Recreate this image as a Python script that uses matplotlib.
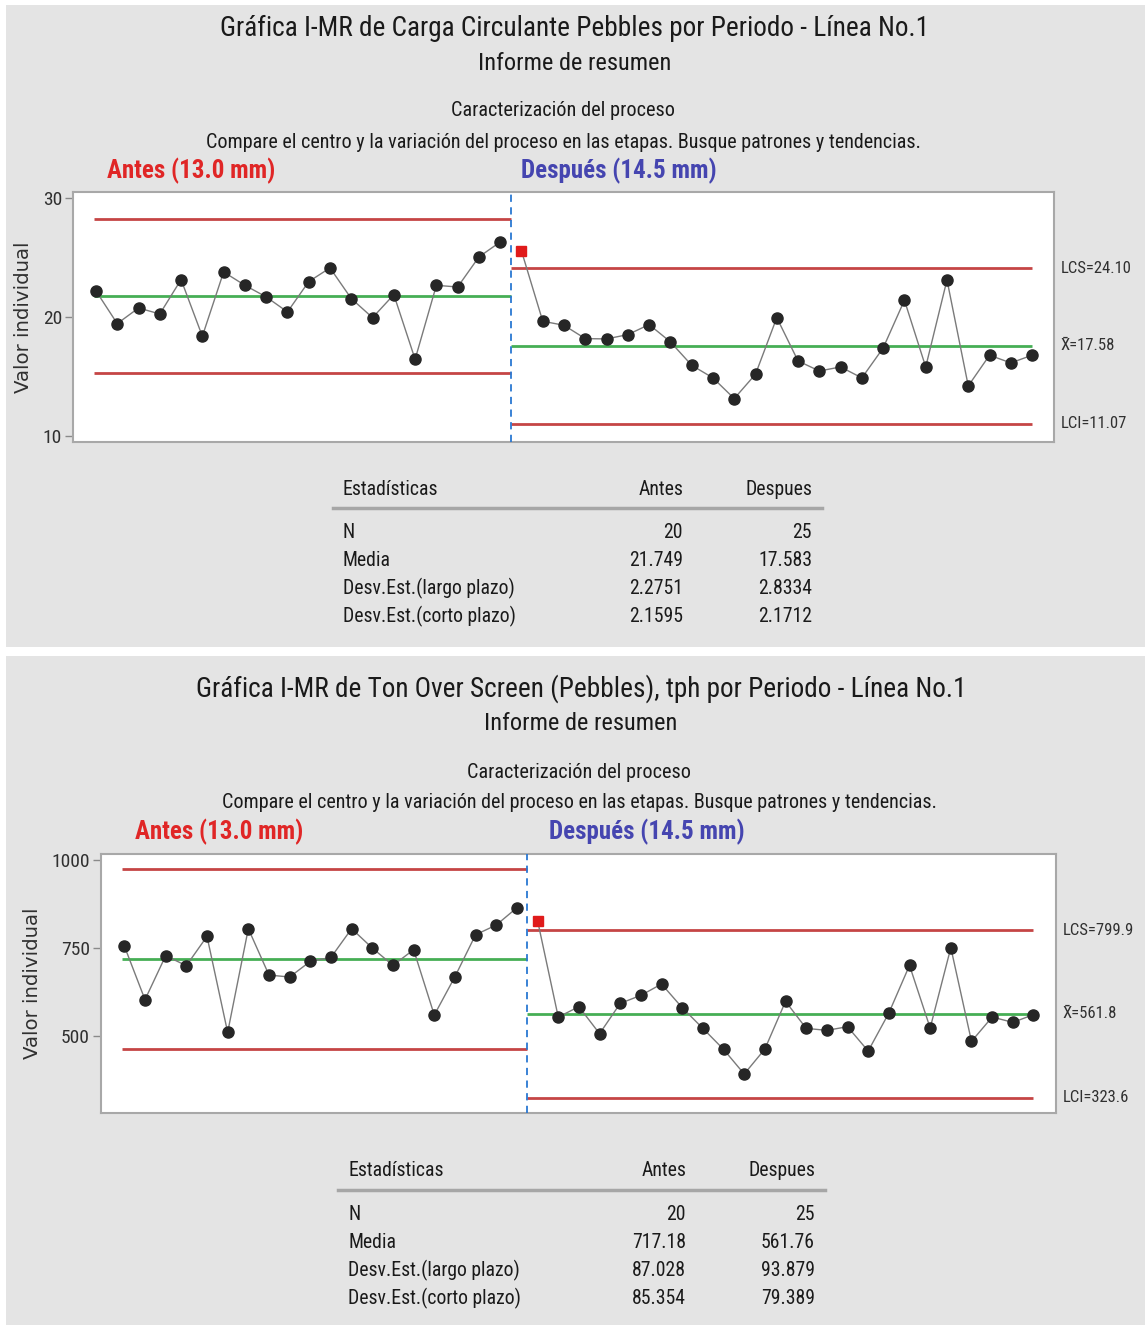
import matplotlib
matplotlib.use("Agg")
import matplotlib.pyplot as plt
from matplotlib.patches import Rectangle
from matplotlib.lines import Line2D
import numpy as np

plt.rcParams['font.family'] = ['Roboto Condensed', 'Liberation Sans Narrow',
                               'DejaVu Sans']
plt.rcParams['font.stretch'] = 'condensed'

# ---- data: circulating load (pebbles) ----
carga_antes = [22.18, 19.44, 20.75, 20.25, 23.13, 18.38, 23.77, 22.65, 21.68, 20.42,
               22.96, 24.11, 21.54, 19.94, 21.87, 16.45, 22.65, 22.51, 25.03, 26.28]
carga_despues = [25.53, 19.64, 19.30, 18.18, 18.16, 18.52, 19.36, 17.91, 15.95, 14.89,
                 13.16, 15.20, 19.94, 16.31, 15.47, 15.81, 14.89, 17.40, 21.40, 15.81,
                 23.10, 14.22, 16.79, 16.15, 16.79]
carga_stats_antes = [20, 21.749, 2.2751, 2.1595]
carga_stats_despues = [25, 17.583, 2.8334, 2.1712]
carga_stats_text_antes = ["20", "21.749", "2.2751", "2.1595"]
carga_stats_text_despues = ["25", "17.583", "2.8334", "2.1712"]
carga_limit_labels = ["LCS=24.10", "X\u0304=17.58", "LCI=11.07"]
carga_yticks = [10, 20, 30]

# ---- data: ton over screen (pebbles), tph ----
ton_antes = [754.7, 602.3, 727.3, 698.9, 782.2, 509.5, 804.0, 672.3, 666.7, 711.2,
             722.5, 804.0, 749.1, 699.8, 744.3, 558.7, 667.6, 786.9, 814.4, 863.6]
ton_despues = [826.7, 553.0, 582.4, 505.7, 591.9, 614.6, 646.8, 579.5, 520.8, 461.2,
               391.1, 462.1, 597.5, 520.8, 515.2, 525.6, 456.4, 564.4, 699.8, 521.8,
               750.0, 483.9, 553.0, 537.9, 559.7]
ton_stats_antes = [20, 717.18, 87.028, 85.354]
ton_stats_despues = [25, 561.76, 93.879, 79.389]
ton_stats_text_antes = ["20", "717.18", "87.028", "85.354"]
ton_stats_text_despues = ["25", "561.76", "93.879", "79.389"]
ton_limit_labels = ["LCS=799.9", "X\u0304=561.8", "LCI=323.6"]
ton_yticks = [500, 750, 1000]

stat_names = ["N", "Media", "Desv.Est.(largo plazo)", "Desv.Est.(corto plazo)"]

W, H = 1145, 1325
fig = plt.figure(figsize=(W / 100, H / 100), dpi=100, facecolor='white')

PANEL = '#e4e4e4'
RED = '#c23b3b'
GREEN = '#3caa4c'
DARK = '#262626'
TXT = '#1a1a1a'


def fx(x):
    return x / W


def fy(y):
    return 1 - y / H


def ftext(x, y, s, **kw):
    kw.setdefault('va', 'center')
    kw.setdefault('color', TXT)
    fig.text(fx(x), fy(y), s, **kw)


def panel(y0, title, box, ylim, xlim, antes, despues, st_a, st_d,
          txt_a, txt_d, lim_labels, yticks, table_x, dy_table, cx_head, cx_sub):
    # titles
    ftext(cx_head, y0 + 28, title, ha='center', fontsize=19.6)
    ftext(cx_head, y0 + 63, "Informe de resumen", ha='center', fontsize=17.6)
    ftext(cx_sub, y0 + 111, "Caracterización del proceso", ha='center', fontsize=14.6)
    ftext(cx_sub, y0 + 142, "Compare el centro y la variación del proceso en las etapas. "
          "Busque patrones y tendencias.", ha='center', fontsize=14.5)
    ftext(box[0] + 34, y0 + 171, "Antes (13.0 mm)", ha='left', fontsize=18,
          fontweight='bold', color='#e02626')
    ftext(box[0] + 448, y0 + 171, "Después (14.5 mm)", ha='left', fontsize=18,
          fontweight='bold', color='#4545b0')

    l, r, t, b = box[0], box[1], y0 + box[2], y0 + box[3]
    ax = fig.add_axes([fx(l), fy(b), fx(r - l), (b - t) / H])
    ax.set_facecolor('white')
    ax.set_xlim(*xlim)
    ax.set_ylim(*ylim)

    na, nd = len(antes), len(despues)
    xa = np.arange(1, na + 1)
    xd = np.arange(na + 1, na + nd + 1)
    split = na + 0.5

    for xs, vals, st in ((xa, antes, st_a), (xd, despues, st_d)):
        mean, sd = st[1], st[3]
        ucl, lcl = mean + 3 * sd, mean - 3 * sd
        x0 = xs[0] - 0.1 if xs[0] == 1 else split
        x1 = split if xs[0] == 1 else xs[-1]
        for v, c in ((ucl, RED), (lcl, RED), (mean, GREEN)):
            ax.plot([x0, x1], [v, v], color=c, lw=2.0, solid_capstyle='butt', zorder=2,
                    alpha=0.95)
        ax.plot(xs, vals, color='#7a7a7a', lw=1.0, zorder=3)
        vals = np.asarray(vals)
        out = (vals > ucl) | (vals < lcl)
        ax.plot(xs[~out], vals[~out], 'o', ms=8, color=DARK, mec=DARK, zorder=4)
        ax.plot(xs[out], vals[out], 's', ms=7.5, color='#e01b1b', mec='#e01b1b', zorder=4)

    ax.axvline(split, color='#2a78d2', lw=1.3, ls=(0, (4, 3)), zorder=5)

    # limit labels on the right
    mean, sd = st_d[1], st_d[3]
    for v, s in zip((mean + 3 * sd, mean, mean - 3 * sd), lim_labels):
        ax.text(1.007, v, s, transform=ax.get_yaxis_transform(), ha='left',
                va='center', fontsize=12, color='#303030', clip_on=False)

    ax.set_xticks([])
    ax.set_yticks(yticks)
    ax.set_yticklabels([str(v) for v in yticks])
    ax.tick_params(axis='y', length=6, width=1, color='#8a8a8a', labelsize=14,
                   labelcolor='#303030', pad=2)
    for sp in ax.spines.values():
        sp.set_color('#a8a8a8')
        sp.set_linewidth(1.5)
    ax.set_ylabel("Valor individual", family='DejaVu Sans', fontstretch='normal',
                  fontsize=14.2, color='#303030', labelpad=7)

    # statistics table
    tl, ta, td, tr = table_x
    ty = y0 + dy_table
    ftext(tl + 10, ty, "Estadísticas", ha='left', fontsize=14.2)
    ftext(ta, ty, "Antes", ha='right', fontsize=14.2)
    ftext(td, ty, "Despues", ha='right', fontsize=14.2)
    fig.add_artist(Line2D([fx(tl), fx(tr)], [fy(ty + 19), fy(ty + 19)],
                          color='#a6a6a6', lw=2.5))
    for i, name in enumerate(stat_names):
        yy = ty + 44 + i * 27.7
        ftext(tl + 10, yy, name, ha='left', fontsize=14.2)
        ftext(ta, yy, txt_a[i], ha='right', fontsize=14.2)
        ftext(td, yy, txt_d[i], ha='right', fontsize=14.2)
    return ax


# grey report backgrounds
fig.add_artist(Rectangle((fx(6), fy(647)), fx(W - 6), (647 - 5) / H,
                         facecolor=PANEL, edgecolor='none', zorder=-10))
fig.add_artist(Rectangle((fx(6), fy(H)), fx(W - 6), (H - 656) / H,
                         facecolor=PANEL, edgecolor='none', zorder=-10))

panel(0, "Gráfica I-MR de Carga Circulante Pebbles por Periodo - Línea No.1",
      (73, 1054, 192, 442), (9.52, 30.47), (-0.08, 46.03),
      carga_antes, carga_despues, carga_stats_antes, carga_stats_despues,
      carga_stats_text_antes, carga_stats_text_despues, carga_limit_labels,
      carga_yticks, (333, 683, 812, 822), 489, 575, 563)

panel(661, "Gráfica I-MR de Ton Over Screen (Pebbles), tph por Periodo - Línea No.1",
      (101, 1056, 193, 452), (280.4, 1016.2), (-0.13, 46.09),
      ton_antes, ton_despues, ton_stats_antes, ton_stats_despues,
      ton_stats_text_antes, ton_stats_text_despues, ton_limit_labels,
      ton_yticks, (338, 686, 815, 825), 510, 581, 579)

fig.savefig("out.png", dpi=100, facecolor='white')
